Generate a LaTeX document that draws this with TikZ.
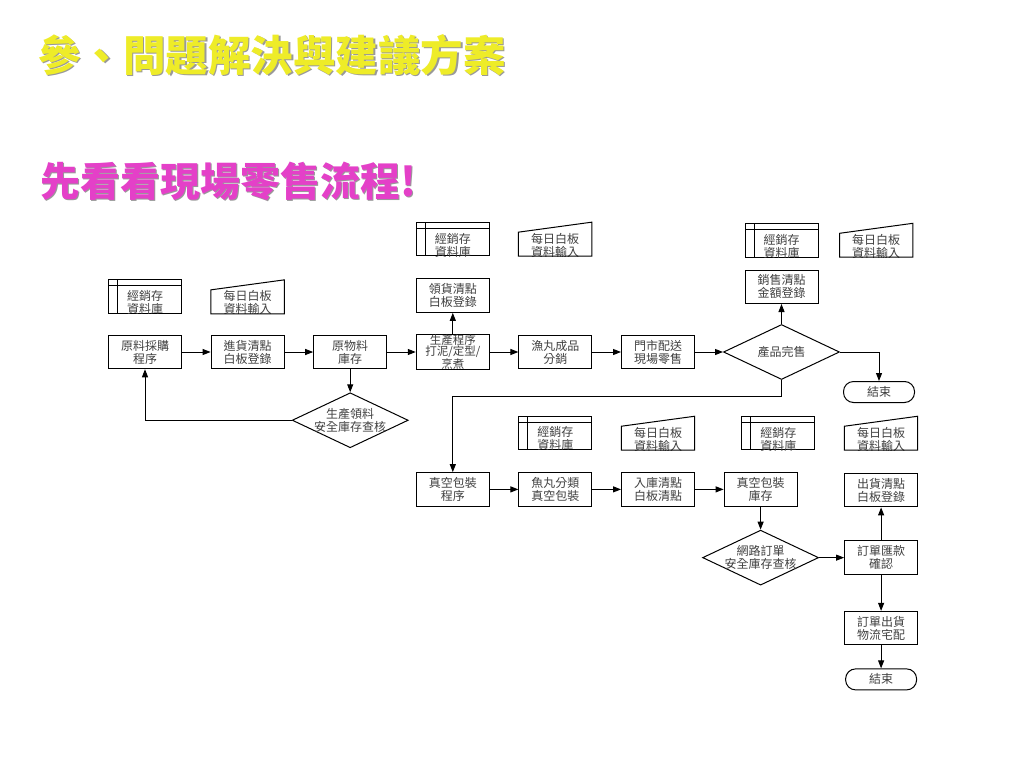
\documentclass[tikz,border=0pt]{standalone}
\usepackage{fontspec}
\newfontfamily\cjk{Noto Sans CJK TC}
\usepackage{tikz}
\usetikzlibrary{positioning, calc}
\usetikzlibrary{shapes.geometric, arrows.meta}

\definecolor{titleyellow}{RGB}{238,236,40}
\definecolor{titlepink}{RGB}{228,64,200}

\tikzset{
    txt/.style={font=\cjk\fontsize{12}{13}\selectfont, text=black!75},
    box/.style={txt, draw, line width=1pt, minimum width=73pt, minimum height=33.5pt, inner sep=1pt, align=center},
    dtext/.style={txt, align=center, inner sep=0pt, yshift=-6pt},
    store/.style={draw, line width=1pt, minimum width=73pt, minimum height=33.5pt, inner sep=0pt,
        path picture={
            \draw[line width=1pt] ([yshift=-6pt]path picture bounding box.north west) -- ([yshift=-6pt]path picture bounding box.north east);
            \draw[line width=1pt] ([xshift=9pt]path picture bounding box.north west) -- ([xshift=9pt]path picture bounding box.south west);
        },
        label={[dtext]center:#1}},
    manual/.style={minimum width=73pt, minimum height=33.5pt, inner sep=0pt, label={[dtext]center:#1}},
    dec/.style={txt, diamond, draw, line width=1pt, aspect=2.1, minimum width=116pt, minimum height=55pt, inner sep=-5pt, align=center},
    term/.style={txt, draw, line width=1pt, rounded corners=10pt, minimum width=71pt, minimum height=21pt, inner sep=0pt},
    flow/.style={line width=1pt, -{Triangle[length=8pt,width=6pt]}},
    head/.style={anchor=west, inner sep=0pt, font=\cjk\bfseries\fontsize{#1}{#1}\selectfont}
}

\begin{document}
\begin{tikzpicture}[x=1pt, y=-1pt]
    \fill[white] (0,0) rectangle (1024,768);
    \useasboundingbox (0,0) rectangle (1024,768);

    % headings
    \node[head=42.5, text=black!40] (T1s) at (39.5,56.5) {參、問題解決與建議方案};
    \node[head=42.5, text=titleyellow] (T1) at (38,55) {參、問題解決與建議方案};
    \node[head=40, text=black!40] (T2s) at (41.5,182.5) {先看看現場零售流程!};
    \node[head=40, text=titlepink] (T2) at (40,181) {先看看現場零售流程!};

    % retail line
    \node[box] (P0) at (145,352) {原料採購\\程序};
    \node[box] (P1) [right=28.6pt of P0] {進貨清點\\白板登錄};
    \node[box] (P2) [right=28.6pt of P1] {原物料\\庫存};
    \node[box, font=\cjk\fontsize{11.5}{10.5}\selectfont, inner ysep=0pt] (P3) [right=28.6pt of P2] {生產程序\\打泥/定型/\\烹煮};
    \node[box] (P4) [right=28.6pt of P3] {漁丸成品\\分銷};
    \node[box] (P5) [right=28.6pt of P4] {門市配送\\現場零售};
    \node[dec] (D1) [right=28pt of P5] {產品完售};
    \node[term] (E1) at (879,392) {結束};
    \node[dec] (D2) [below=23pt of P2] {生產領料\\安全庫存查核};

    \node[store={經銷存\\資料庫}] (S1) [above=21pt of P0] {};
    \node[manual={每日白板\\資料輸入}] (M1) [above=21pt of P1] {};
    \node[box] (G1) [above=21pt of P3] {領貨清點\\白板登錄};
    \node[store={經銷存\\資料庫}] (S2) [above=22pt of G1] {};
    \node[manual={每日白板\\資料輸入}] (M2) [right=28.6pt of S2] {};
    \node[box] (X1) [above=20pt of D1] {銷售清點\\金額登錄};
    \node[store={經銷存\\資料庫}] (S3) [above=12pt of X1] {};
    \node[manual={每日白板\\資料輸入}] (M3) [right=21pt of S3] {};

    % online order line
    \node[box] (Q0) [below=102pt of P3] {真空包裝\\程序};
    \node[box] (Q1) [right=28.6pt of Q0] {魚丸分類\\真空包裝};
    \node[box] (Q2) [right=28.6pt of Q1] {入庫清點\\白板清點};
    \node[box] (Q3) [right=28.6pt of Q2] {真空包裝\\庫存};
    \node[dec] (D3) [below=23pt of Q3] {網路訂單\\安全庫存查核};
    \node[box] (Y2) [right=25pt of D3] {訂單匯款\\確認};
    \node[box] (Y1) [above=33pt of Y2] {出貨清點\\白板登錄};
    \node[box] (Y3) [below=36pt of Y2] {訂單出貨\\物流宅配};
    \node[term] (E2) [below=23pt of Y3] {結束};

    \node[store={經銷存\\資料庫}] (S4) [above=22pt of Q1] {};
    \node[manual={每日白板\\資料輸入}] (M4) [above=22pt of Q2] {};
    \node[store={經銷存\\資料庫}] (S5) [right=46.6pt of M4] {};
    \node[manual={每日白板\\資料輸入}] (M5) [right=29pt of S5] {};

    \foreach \m in {M1,M2,M3,M4,M5}
        \draw[line width=1pt] (\m.south west) -- ([yshift=-10pt]\m.north west) -- (\m.north east) -- (\m.south east) -- cycle;

    \coordinate[below=16pt of D1.south] (K1);

    \draw[flow]
        (P0) edge (P1)
        (P1) edge (P2)
        (P2) edge (P3)
        (P3) edge (P4)
        (P4) edge (P5)
        (P5) edge (D1)
        (P2) edge (D2)
        (P3) edge (G1)
        (D1) edge (X1)
        (Q0) edge (Q1)
        (Q1) edge (Q2)
        (Q2) edge (Q3)
        (Q3) edge (D3)
        (D3) edge (Y2)
        (Y2) edge (Y1)
        (Y2) edge (Y3)
        (Y3) edge (E2);
    \draw[flow] (D2) -| (P0);
    \draw[flow] (D1) -| (E1);
    \draw[flow] (D1.south) -- (K1) -| (Q0);

\end{tikzpicture}
\end{document}
